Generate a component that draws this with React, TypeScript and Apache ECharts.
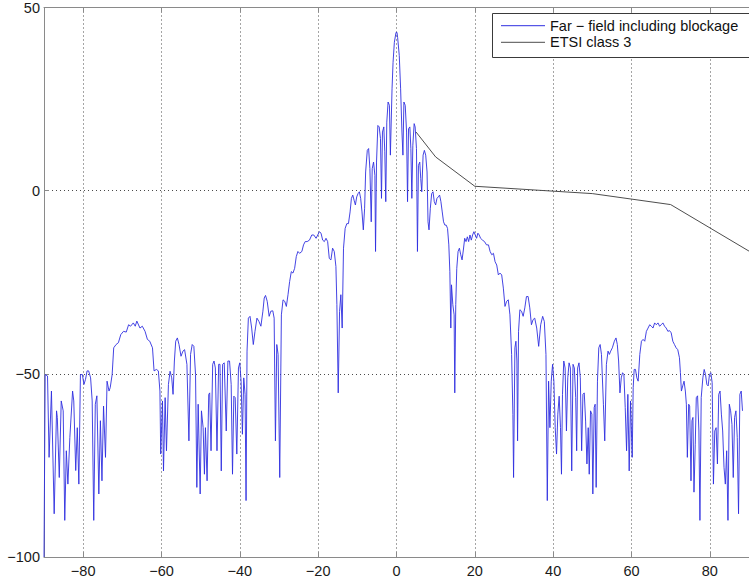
import React, { useEffect, useRef } from "react";
import * as echarts from "echarts";

// Far-field radiation pattern (angle in degrees, level in dB)
const farField: [number, number][] = [
  [-90, -100], [-89.7, -50.2], [-89.1, -50.6], [-88.7, -72.8], [-88.1, -54.7], [-87.4, -88.2],
  [-86.8, -60.1], [-86.6, -61.9], [-86.1, -78.3], [-85.6, -57.4], [-85.1, -60.1], [-84.7, -90.0],
  [-84.3, -71.0], [-83.9, -80.1], [-83.4, -67.4], [-82.7, -54.7], [-82.4, -57.4], [-81.9, -76.4],
  [-81.5, -64.7], [-81.1, -80.1], [-80.7, -50.2], [-80.2, -50.2], [-79.8, -52.9], [-79.4, -51.5],
  [-79.0, -49.2], [-78.6, -49.2], [-78.1, -51.1], [-77.7, -57.4], [-77.3, -90.0], [-76.9, -58.3],
  [-76.5, -56.0], [-76.0, -82.8], [-75.6, -62.8], [-75.2, -79.2], [-74.8, -58.8], [-74.3, -72.8],
  [-73.9, -52.0], [-73.4, -54.7], [-73.1, -53.8], [-72.6, -50.2], [-72.2, -42.9], [-71.6, -42.0],
  [-71.0, -41.5], [-70.4, -39.3], [-69.7, -38.4], [-69.0, -38.6], [-68.4, -36.6], [-67.9, -37.0],
  [-67.2, -36.1], [-66.7, -37.0], [-66.3, -35.6], [-65.5, -37.5], [-64.9, -37.0], [-64.2, -38.4],
  [-63.6, -40.6], [-63.0, -41.1], [-62.3, -42.9], [-61.9, -49.2], [-61.3, -48.8], [-60.8, -49.2],
  [-60.4, -54.7], [-60.2, -71.9], [-59.75, -57.4], [-59.49, -76.5], [-59.07, -56.5], [-58.73, -71.0],
  [-58.23, -52.9], [-57.81, -49.3], [-57.39, -51.1], [-57.05, -55.6], [-56.71, -46.5], [-56.37, -41.1],
  [-55.95, -40.2], [-55.53, -42.0], [-55.02, -45.2], [-54.52, -43.8], [-54.1, -43.4], [-53.51, -47.4],
  [-53.0, -68.3], [-52.58, -44.7], [-52.16, -42.0], [-51.74, -42.5], [-51.31, -50.2], [-50.98, -81.0],
  [-50.64, -58.3], [-50.13, -82.8], [-49.8, -60.1], [-49.37, -64.7], [-49.04, -77.4], [-48.78, -64.7],
  [-48.36, -79.2], [-47.94, -55.6], [-47.69, -55.2], [-47.35, -71.0], [-46.93, -47.4], [-46.59, -46.5],
  [-46.25, -48.4], [-45.83, -71.0], [-45.41, -47.4], [-45.07, -47.4], [-44.74, -76.5], [-44.4, -47.4],
  [-43.98, -47.0], [-43.47, -65.6], [-43.05, -46.5], [-42.63, -46.5], [-42.21, -52.9], [-41.87, -77.4],
  [-41.53, -56.1], [-41.19, -56.5], [-40.77, -71.9], [-40.35, -48.4], [-40.01, -47.0], [-39.68, -52.0],
  [-39.34, -66.5], [-39.0, -51.1], [-38.66, -55.6], [-38.41, -84.6], [-38.16, -43.8], [-37.82, -34.8],
  [-37.4, -34.3], [-36.98, -37.5], [-36.56, -42.0], [-36.13, -38.4], [-35.63, -34.8], [-35.12, -35.7],
  [-34.62, -37.0], [-34.11, -32.9], [-33.77, -29.3], [-33.44, -28.6], [-33.01, -30.2], [-32.51, -34.3],
  [-32.09, -32.9], [-31.58, -32.8], [-31.24, -34.8], [-30.91, -68.3], [-30.57, -42.0], [-30.23, -44.7],
  [-29.81, -78.3], [-29.39, -33.9], [-28.97, -29.8], [-28.54, -30.2], [-28.12, -31.6], [-27.7, -28.4],
  [-27.28, -24.8], [-26.86, -22.1], [-26.44, -22.5], [-26.01, -21.2], [-25.59, -18.0], [-25.17, -16.6],
  [-24.75, -17.1], [-24.16, -16.6], [-23.74, -14.8], [-23.31, -13.9], [-22.81, -13.9], [-22.22, -13.5],
  [-21.63, -12.1], [-21.12, -12.1], [-20.53, -13.0], [-20.11, -12.1], [-19.69, -11.2], [-19.27, -11.6],
  [-18.85, -13.5], [-18.42, -13.9], [-18.0, -13.0], [-17.58, -13.9], [-17.16, -18.5], [-16.74, -18.9],
  [-16.32, -15.7], [-15.89, -16.6], [-15.47, -20.7], [-15.22, -31.1], [-14.88, -55.2], [-14.54, -33.0],
  [-14.21, -28.4], [-13.87, -37.5], [-13.53, -15.7], [-13.11, -10.3], [-12.69, -9.0], [-12.27, -9.0],
  [-11.85, -5.8], [-11.51, -2.1], [-11.17, -1.2], [-10.83, -2.6], [-10.5, -3.9], [-10.16, -1.7],
  [-9.82, -0.8], [-9.48, -0.3], [-9.15, -2.1], [-8.81, -5.8], [-8.47, -10.7], [-8.14, -4.8],
  [-7.88, 5.1], [-7.46, 11.0], [-7.12, 11.5], [-6.79, 6.0], [-6.45, -8.5], [-6.2, 6.0],
  [-5.86, 7.8], [-5.52, 4.2], [-5.35, -16.6], [-5.1, 7.8], [-4.76, 17.8], [-4.42, 17.4],
  [-4.09, 14.2], [-3.83, -2.1], [-3.58, 16.0], [-3.24, 17.4], [-2.99, 10.6], [-2.74, -3.0],
  [-2.48, 18.7], [-2.15, 24.2], [-1.81, 23.3], [-1.56, 9.7], [-1.14, 27.8], [-0.88, 35.0],
  [-0.55, 40.5], [-0.12, 43.2], [0.13, 43.2], [0.29, 41.8], [0.71, 36.9], [1.05, 27.8],
  [1.39, 16.0], [1.64, 9.7], [1.89, 24.2], [2.23, 23.3], [2.57, 16.0], [2.82, -3.0],
  [3.07, 16.9], [3.41, 17.4], [3.67, 11.5], [3.92, -2.1], [4.17, 12.4], [4.51, 18.3],
  [4.76, 17.4], [5.1, 11.5], [5.35, -16.6], [5.6, 6.9], [5.94, 7.8], [6.19, 3.3],
  [6.45, -0.3], [6.79, 9.7], [7.12, 11.0], [7.46, 9.7], [7.8, 5.1], [8.05, -8.5],
  [8.3, -10.7], [8.64, -4.8], [8.98, -0.8], [9.32, -0.3], [9.65, -3.0], [9.99, -3.9],
  [10.33, -2.1], [10.66, -1.7], [11.0, -1.2], [11.34, -3.0], [11.68, -5.8], [12.01, -8.5],
  [12.35, -9.4], [12.69, -9.4], [13.03, -10.3], [13.36, -14.8], [13.62, -22.1], [13.87, -37.5],
  [14.04, -25.7], [14.38, -31.1], [14.71, -33.9], [14.88, -55.2], [15.13, -31.1], [15.39, -21.2],
  [15.72, -16.6], [16.06, -15.7], [16.4, -17.5], [16.74, -18.9], [17.07, -16.2], [17.41, -13.0],
  [17.75, -13.9], [18.09, -12.6], [18.42, -13.9], [18.76, -12.1], [19.1, -13.5], [19.43, -12.1],
  [19.77, -11.2], [20.11, -12.1], [20.45, -13.0], [20.78, -11.6], [21.12, -12.1], [21.46, -13.0],
  [21.96, -13.5], [22.47, -13.9], [22.98, -14.8], [23.48, -14.8], [23.9, -16.6], [24.33, -17.5],
  [24.75, -17.1], [25.17, -19.4], [25.59, -20.3], [26.01, -23.0], [26.43, -22.5], [26.86, -23.0],
  [27.28, -26.6], [27.7, -31.6], [28.12, -30.2], [28.54, -29.8], [28.96, -33.9], [29.39, -44.7],
  [29.72, -61.1], [29.89, -78.3], [30.23, -42.9], [30.49, -41.1], [30.74, -46.5], [30.91, -68.3],
  [31.16, -38.4], [31.5, -32.5], [31.92, -32.9], [32.34, -34.3], [32.76, -32.0], [33.18, -28.9],
  [33.61, -28.9], [34.03, -32.0], [34.45, -36.6], [34.87, -35.2], [35.29, -34.8], [35.8, -37.5],
  [36.3, -42.5], [36.81, -36.6], [37.32, -34.3], [37.74, -35.7], [38.16, -44.7], [38.5, -84.6],
  [38.83, -52.0], [39.17, -64.7], [39.51, -52.0], [39.85, -47.4], [40.18, -52.0], [40.52, -64.7],
  [40.86, -71.9], [41.19, -61.0], [41.53, -56.1], [41.87, -64.7], [42.12, -77.4], [42.38, -55.6],
  [42.71, -46.5], [43.05, -48.4], [43.39, -65.6], [43.73, -51.1], [44.06, -47.0], [44.4, -48.4],
  [44.74, -76.5], [45.07, -47.4], [45.41, -48.4], [45.75, -56.5], [46.0, -71.0], [46.25, -48.4],
  [46.59, -47.0], [46.93, -51.1], [47.27, -71.0], [47.6, -55.6], [47.94, -55.2], [48.28, -62.9],
  [48.62, -74.6], [48.95, -64.7], [49.21, -77.4], [49.54, -60.1], [49.88, -61.0], [50.13, -82.8],
  [50.47, -59.2], [50.72, -58.3], [50.98, -81.0], [51.31, -52.0], [51.65, -42.9], [51.99, -42.0],
  [52.33, -44.7], [52.83, -58.3], [53.17, -68.3], [53.59, -47.4], [54.01, -43.8], [54.35, -44.7],
  [54.69, -43.8], [55.11, -42.9], [55.62, -41.1], [56.04, -40.2], [56.38, -42.0], [56.71, -46.5],
  [57.05, -55.2], [57.39, -51.1], [57.72, -49.7], [58.06, -50.2], [58.4, -59.2], [58.74, -71.0],
  [59.07, -55.6], [59.41, -76.5], [59.75, -57.4], [60.18, -72.8], [60.43, -53.8], [60.68, -48.8],
  [61.02, -48.8], [61.36, -51.1], [61.7, -52.0], [62.12, -44.7], [62.54, -41.1], [62.96, -40.6],
  [63.38, -41.1], [63.8, -38.4], [64.23, -37.5], [64.65, -36.6], [65.07, -37.0], [65.49, -37.5],
  [65.91, -36.1], [66.33, -36.6], [66.76, -36.1], [67.18, -37.0], [67.6, -36.6], [68.02, -36.1],
  [68.44, -37.0], [68.86, -37.5], [69.29, -38.4], [69.71, -38.2], [70.13, -38.8], [70.55, -41.1],
  [70.97, -42.0], [71.39, -42.9], [71.81, -43.4], [72.24, -45.6], [72.49, -49.7], [72.74, -54.7],
  [73.08, -53.3], [73.42, -52.0], [73.75, -54.7], [74.01, -58.3], [74.26, -72.8], [74.6, -58.3],
  [74.85, -58.8], [75.19, -79.2], [75.44, -62.8], [75.69, -61.9], [75.95, -82.3], [76.28, -69.2],
  [76.54, -56.5], [76.87, -56.0], [77.21, -65.6], [77.47, -90.0], [77.8, -56.5], [78.22, -51.1],
  [78.56, -48.8], [78.9, -50.2], [79.24, -52.9], [79.57, -53.3], [79.91, -50.2], [80.25, -49.7],
  [80.59, -52.4], [80.92, -80.1], [81.26, -65.6], [81.6, -64.7], [81.94, -74.6], [82.27, -55.6],
  [82.61, -54.7], [82.95, -61.0], [83.28, -65.6], [83.62, -75.5], [83.96, -80.1], [84.3, -71.0],
  [84.63, -90.0], [84.97, -58.3], [85.31, -60.1], [85.65, -63.8], [85.98, -78.3], [86.32, -61.9],
  [86.66, -60.1], [87.0, -67.4], [87.33, -88.2], [87.67, -55.6], [88.01, -54.7], [88.34, -60.1],
];

// ETSI class 3 radiation pattern envelope
const etsiAngles = [5, 10, 20, 50, 70, 90];
const etsiLevels = [16.0, 9.2, 1.2, -0.8, -3.8, -16.5];

const seriesNames = ["Far \u2212 field including blockage", "ETSI class 3"];
const seriesColors = ["#2f2fe0", "#4d4d4d"];

const xRange = [-90, 90];
const yRange = [-100, 50];
const yStep = 50;

const FONT = "'Liberation Sans', Arial, Helvetica, sans-serif";
const FONT_SIZE = 14.5;
const minus = (v: number) => String(v).replace("-", "\u2212");

// Boxed key in the upper right corner: thin line swatch + series name per row
function legendGraphic() {
  const boxLeft = 492.5;
  const boxTop = 13.5;
  const rowY = [25.7, 42.3];
  const elements: any[] = [
    {
      type: "rect",
      shape: { x: boxLeft, y: boxTop, width: 280, height: 44 },
      style: { fill: "#ffffff", stroke: "#3a3a3a", lineWidth: 1 },
      z: 10,
    },
  ];
  seriesNames.forEach((name, i) => {
    elements.push({
      type: "line",
      shape: { x1: 501, y1: rowY[i], x2: 545, y2: rowY[i] },
      style: { stroke: seriesColors[i], lineWidth: 1 },
      z: 11,
    });
    elements.push({
      type: "text",
      x: 550,
      y: rowY[i],
      style: {
        text: name,
        fill: "#111",
        font: `${FONT_SIZE}px ${FONT}`,
        textVerticalAlign: "middle",
        verticalAlign: "middle",
      },
      z: 11,
    });
  });
  return elements;
}

export default function App() {
  const ref = useRef<HTMLDivElement>(null);

  useEffect(() => {
    if (!ref.current) return;
    const chart = echarts.init(ref.current, undefined, { renderer: "svg" });

    const gridDots = { color: "#4a4a4a", width: 1, type: [1, 3] as number[] };
    const axisGray = { color: "#8a8a8a", width: 1 };

    chart.setOption({
      animation: false,
      backgroundColor: "#ffffff",
      grid: { left: 44, right: -6, top: 5, bottom: 25, containLabel: false },
      graphic: legendGraphic(),
      xAxis: [
        {
          type: "value",
          min: xRange[0],
          max: xRange[1],
          splitNumber: 9,
          axisLine: { show: true, onZero: false, lineStyle: axisGray },
          axisTick: { show: true, inside: true, length: 5, lineStyle: axisGray },
          axisLabel: {
            showMinLabel: false,
            showMaxLabel: false,
            margin: 6,
            fontFamily: FONT,
            fontSize: FONT_SIZE,
            color: "#1a1a1a",
            formatter: (v: number) => minus(v),
          },
          splitLine: { show: true, lineStyle: gridDots },
        },
        {
          type: "value",
          position: "top",
          min: xRange[0],
          max: xRange[1],
          splitNumber: 9,
          axisLine: { show: true, onZero: false, lineStyle: axisGray },
          axisTick: { show: true, inside: true, length: 5, lineStyle: axisGray },
          axisLabel: { show: false },
          splitLine: { show: false },
        },
      ],
      yAxis: [
        {
          type: "value",
          min: yRange[0],
          max: yRange[1],
          interval: yStep,
          axisLine: { show: true, onZero: false, lineStyle: axisGray },
          axisTick: { show: true, inside: true, length: 5, lineStyle: axisGray },
          axisLabel: {
            margin: 4,
            fontFamily: FONT,
            fontSize: FONT_SIZE,
            color: "#1a1a1a",
            formatter: (v: number) => minus(v),
          },
          splitLine: { show: true, lineStyle: gridDots },
        },
      ],
      series: [
        {
          name: seriesNames[0],
          type: "line",
          xAxisIndex: 0,
          data: farField,
          symbol: "none",
          showSymbol: false,
          lineStyle: { color: seriesColors[0], width: 0.9 },
          itemStyle: { color: seriesColors[0] },
          z: 3,
        },
        {
          name: seriesNames[1],
          type: "line",
          xAxisIndex: 0,
          data: etsiAngles.map((a, i) => [a, etsiLevels[i]]),
          symbol: "none",
          showSymbol: false,
          lineStyle: { color: seriesColors[1], width: 1 },
          itemStyle: { color: seriesColors[1] },
          z: 4,
        },
      ],
    });

    return () => chart.dispose();
  }, []);

  return (
    <div
      ref={ref}
      style={{ position: "absolute", left: 0, top: 0, width: 749, height: 582 }}
    />
  );
}
